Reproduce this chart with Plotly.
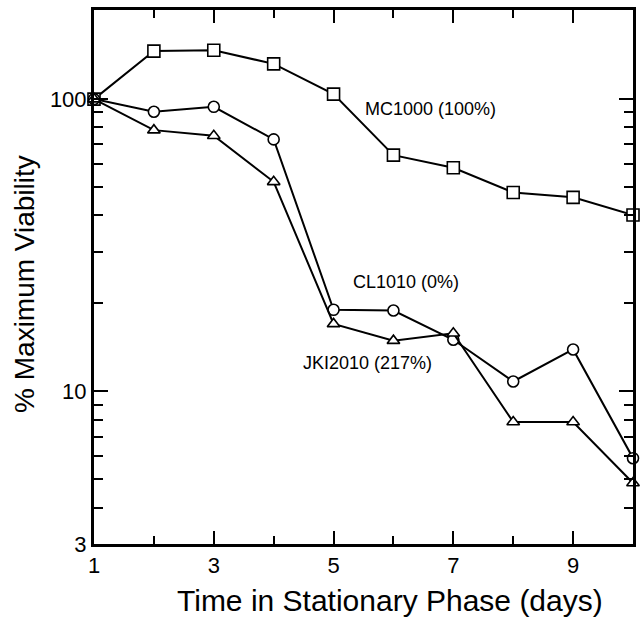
import math
import plotly.graph_objects as go

days = [1, 2, 3, 4, 5, 6, 7, 8, 9, 10]
mc1000 = [100, 146, 147, 132, 104, 64.3, 58.2, 47.9, 46.1, 40.1]
cl1010 = [100, 90.5, 94.1, 72.8, 19.0, 18.9, 15.0, 10.8, 13.9, 5.9]
jki2010 = [100, 78.3, 74.9, 52.1, 17.0, 14.9, 15.8, 7.85, 7.85, 4.85]

x_ticks = [1, 3, 5, 7, 9]
x_minor = [2, 4, 6, 8]
y_ticks = [3, 10, 100]
y_tick_labels = ["3", "10", "100"]
y_minor = [4, 5, 6, 7, 8, 9, 20, 30, 40, 50, 60, 70, 80, 90]

labels = ["MC1000 (100%)", "CL1010 (0%)", "JKI2010 (217%)"]
label_x = [5.49, 5.29, 4.45]
label_y = [92.5, 23.6, 12.5]

FONT = "Liberation Sans, Arial, Helvetica, sans-serif"

fig = go.Figure()
for name, vals, sym in [("MC1000", mc1000, "square"),
                        ("CL1010", cl1010, "circle"),
                        ("JKI2010", jki2010, "triangle-up")]:
    fig.add_trace(go.Scatter(
        x=days, y=vals, mode="lines+markers", name=name,
        line=dict(color="black", width=2),
        marker=dict(symbol=sym, size=12 if sym == "square" else 11, color="white",
                    line=dict(color="black", width=1.6)),
        cliponaxis=False, showlegend=False))

for t, lx, ly in zip(labels, label_x, label_y):
    fig.add_annotation(x=lx, y=math.log10(ly), text=t, showarrow=False,
                       xanchor="left", yanchor="middle",
                       font=dict(family=FONT, size=18, color="black"))

fig.add_annotation(xref="paper", yref="paper", x=0.55, y=0, yshift=-56,
                   text="Time in Stationary Phase (days)", showarrow=False,
                   xanchor="center", yanchor="middle",
                   font=dict(family=FONT, size=30, color="black"))
fig.add_annotation(xref="paper", yref="paper", x=0, xshift=-69, y=0.487,
                   text="% Maximum Viability", showarrow=False, textangle=-90,
                   xanchor="center", yanchor="middle",
                   font=dict(family=FONT, size=28, color="black"))

fig.update_layout(
    width=642, height=617,
    margin=dict(l=94, r=6, t=10, b=73),
    paper_bgcolor="white", plot_bgcolor="white",
    font=dict(family=FONT, color="black"),
)
fig.update_xaxes(
    range=[1, 10], tickmode="array", tickvals=x_ticks,
    ticks="inside", ticklen=13, tickwidth=2, tickcolor="black",
    minor=dict(tickvals=x_minor, ticks="inside", ticklen=8, tickwidth=2, tickcolor="black"),
    showline=True, linecolor="black", linewidth=3, mirror="ticks",
    showgrid=False, zeroline=False,
    tickfont=dict(size=22, family=FONT),
)
fig.update_yaxes(
    type="log", range=[math.log10(3), 2.305], tickmode="array",
    tickvals=y_ticks, ticktext=y_tick_labels,
    ticks="inside", ticklen=14, tickwidth=2, tickcolor="black",
    minor=dict(tickvals=y_minor, ticks="inside", ticklen=9, tickwidth=2, tickcolor="black"),
    showline=True, linecolor="black", linewidth=3, mirror="ticks",
    showgrid=False, zeroline=False,
    tickfont=dict(size=22, family=FONT),
)

fig.write_html("out.html", config={"displayModeBar": False},
               post_script="document.body.style.margin='0';document.body.style.overflow='hidden';")
